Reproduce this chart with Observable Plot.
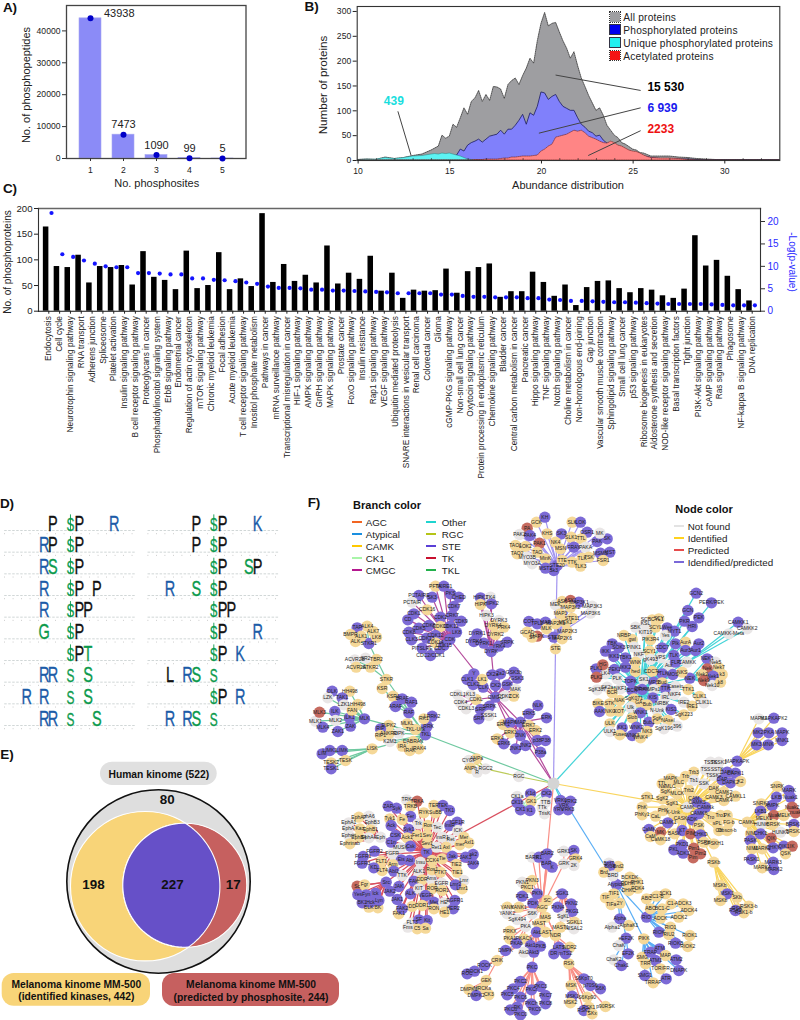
<!DOCTYPE html>
<html><head><meta charset="utf-8">
<script src="https://cdn.jsdelivr.net/npm/d3@7"></script>
<script src="https://cdn.jsdelivr.net/npm/@observablehq/plot@0.6"></script>
<style>
html,body{margin:0;padding:0;background:#fff}
#page{position:relative;width:800px;height:1020px;overflow:hidden;font-family:"Liberation Sans",Arial,sans-serif;color:#111;background:#fff}
#page svg{position:absolute;overflow:visible;background:transparent}
.lab{position:absolute;white-space:nowrap;transform:translate(-50%,-50%)}
.sw{position:absolute}
</style></head><body><div id="page"></div>
<script>
// ---------- Panel A
const sitesCount=[1,2,3,4,5];
const peptides=[43938,7473,1090,99,5];
// ---------- Panel B
const abundance=[10,10.5,11,11.5,12,12.5,13,13.5,14,14.2,14.4,14.6,14.8,15,15.2,15.4,15.6,15.8,16,16.2,16.4,16.6,16.8,17,17.2,17.4,17.6,17.8,18,18.2,18.4,18.6,18.8,19,19.2,19.4,19.6,19.8,20,20.2,20.4,20.6,20.8,21,21.2,21.4,21.6,21.8,22,22.2,22.4,22.6,22.8,23,23.2,23.4,23.6,23.8,24,24.2,24.4,24.6,24.8,25,25.2,25.4,25.6,25.8,26,26.5,27,27.5,28,28.5,29,29.5,30,30.5,31,31.5,32,32.5,33];
const allProteins=[1,2,1,6,3,5,9,12,20,24,28,50,44,48,72,66,85,105,92,118,125,140,118,132,120,148,147,143,124,152,160,165,152,170,185,205,195,240,275,297,270,275,277,258,240,225,205,218,190,165,148,130,115,100,105,90,70,60,50,45,35,32,27,22,20,15,14,11,8,8,8,6,5,3,2,1,1,1,1,1,1,1,1];
const phospho=[0,0,0,0,0,0,0,0,0,0,0,0,0,5,8,10,22,18,30,35,38,42,36,42,48,50,52,60,52,62,62,70,80,92,72,95,90,108,137,135,122,128,132,118,108,104,100,100,85,72,66,58,55,48,50,40,34,34,30,28,25,22,18,15,12,10,8,7,5,3,3,2,2,1,0,0,0,0,0,0,0,0,0];
const uniquePhospho=[1,2,2,5,3,5,8,9,12,13,12,14,13,14,12,10,8,5,2,1,1,0,0,0,0,0,0,0,0,0,0,0,0,0,0,0,0,0,0,0,0,0,0,0,0,0,0,0,0,0,0,0,0,0,0,0,0,0,0,0,0,0,0,0,0,0,0,0,0,0,0,0,0,0,0,0,0,0,0,0,0,0,0];
const acetylated=[0,0,0,0,0,0,0,0,0,0,0,0,0,0,0,0,0,0,0,0,1,1,1,2,2,2,2,3,4,4,6,6,7,8,8,8,9,10,18,22,28,32,46,48,50,52,56,60,58,60,55,48,45,42,38,35,34,38,35,30,28,24,20,18,17,14,10,7,5,4,4,3,1,0,0,0,0,0,0,0,0,0,0];
const abundanceMinorTicks=[11,12,13,14,16,17,18,19,21,22,23,24,26,27,28,29,31,32];
const bCallouts=[
 {t:"15 530",c:"#000",x1:20.77,y1:172,x2:25.41,y2:141,lx:25.78,ly:147},
 {t:"6 939",c:"#1a1aee",x1:19.86,y1:55,x2:25.41,y2:106,lx:25.78,ly:105.5},
 {t:"2233",c:"#ee1111",x1:22.55,y1:10,x2:25.41,y2:60,lx:25.78,ly:62.5},
 {t:"439",c:"#19dede",x1:12.89,y1:10,x2:12.17,y2:99,lx:11.4,ly:119}];
const bLegend=["All proteins","Phosphorylated proteins","Unique phosphorylated proteins","Acetylated proteins"];
// ---------- Panel C
const pathways=["Endocytosis","Cell cycle","Neurotrophin signaling pathway","RNA transport","Adherens junction","Spliceosome","Platelet activation","Insulin signaling pathway","B cell receptor signaling pathway","Proteoglycans in cancer","Phosphatidylinositol signaling system","ErbB signaling pathway","Endometrial cancer","Regulation of actin cytoskeleton","mTOR signaling pathway","Chronic myeloid leukemia","Focal adhesion","Acute myeloid leukemia","T cell receptor signaling pathway","Inositol phosphate metabolism","Pathways in cancer","mRNA surveillance pathway","Transcriptional misregulation in cancer","HIF-1 signaling pathway","AMPK signaling pathway","GnRH signaling pathway","MAPK signaling pathway","Prostate cancer","FoxO signaling pathway","Insulin resistance","Rap1 signaling pathway","VEGF signaling pathway","Ubiquitin mediated proteolysis","SNARE interactions in vesicular transport","Renal cell carcinoma","Colorectal cancer","Glioma","cGMP-PKG signaling pathway","Non-small cell lung cancer","Oxytocin signaling pathway","Protein processing in endoplasmic reticulum","Chemokine signaling pathway","Bladder cancer","Central carbon metabolism in cancer","Pancreatic cancer","Hippo signaling pathway","TNF signaling pathway","Notch signaling pathway","Choline metabolism in cancer","Non-homologous end-joining","Gap junction","Vascular smooth muscle contraction","Sphingolipid signaling pathway","Small cell lung cancer","p53 signaling pathway","Ribosome biogenesis in eukaryotes","Aldosterone synthesis and secretion","NOD-like receptor signaling pathway","Basal transcription factors","Tight junction","PI3K-Akt signaling pathway","cAMP signaling pathway","Ras signaling pathway","Phagosome","NF-kappa B signaling pathway","DNA replication"];
const phosphoproteins=[164,87,85,109,55,87,85,89,51,116,66,60,42,117,44,50,114,42,63,48,190,56,91,58,70,55,127,53,74,62,107,39,74,25,41,39,40,82,35,77,85,92,27,38,38,76,56,29,51,11,46,58,59,44,36,44,41,30,25,43,147,88,99,68,42,20];
const logP=[21.9,12.7,12.1,11.3,10.6,10,9.8,9.8,8.5,8.5,8.4,8.2,8.2,7.3,7.3,7,6.9,6.7,6.4,6.1,5.5,5.2,5.2,5.1,4.8,4.8,4.6,4.6,4.5,4.4,4.3,4.2,4,4,4,4,3.7,3.7,3.4,3.2,3.2,3.1,3.1,3.1,2.9,2.9,2.6,2.5,2.3,2.3,2.2,2.1,2,2,1.9,1.8,1.7,1.6,1.6,1.6,1.6,1.5,1.4,1.3,1.3,1.3];
// ---------- Panel D  (motif, positions -7..+7, column 0/1)
const motifsLeft=["-----P-SP---R--","----RP-SP------","----RS-SP------","----R--SP-P----","----R--SPP-----","----G--SP------","-------SPT-----","----RR-S-S-----","--R-R--S-S-----","----RR-S--S----"];
const motifsRight=["-----P-SP---K--","-----P-SP------","-------SP--SP--","--R--S-SP------","-------SPP-----","-------SP---R--","-------SP-K----","--L-RS-S-------","-------SP-R----","--R-RS-S-------"];
// ---------- Panel E
const vennOuter={x:158,y:881,r:91.7};
const vennIdentified={x:144.7,y:885.7,r:74.7};
const vennPredicted={x:184.3,y:884.7,r:62};
const vennCounts=[{t:"80",x:166.7,y:799.5},{t:"198",x:93,y:884},{t:"227",x:172,y:884},{t:"17",x:232.7,y:884}];
const vennPills=[
 {t:"Human kinome (522)",x1:100,x2:216.7,y1:761.7,y2:785,f:"#e0e0e0"},
 {t:"Melanoma kinome MM-500\n(identified kinases, 442)",x1:1.7,x2:150,y1:973,y2:1005.7,f:"#f8d478"},
 {t:"Melanoma kinome MM-500\n(predicted by phosphosite, 244)",x1:162,x2:339,y1:973,y2:1006,f:"#c6605f"}];
// ---------- Panel F
const branchLegend=["AGC","Atypical","CAMK","CK1","CMGC","Other","RGC","STE","TK","TKL"];
const branchSwatch=["#f26522","#1a8fe0","#ffc800","#a9f5a9","#b5178f","#1fd4cf","#b5c417","#5a3fd6","#c8102e","#22b14c"];
const branchLine={AGC:"#f98f86",Atypical:"#5aaef5",CAMK:"#f9d55e",CK1:"#a9f0b9",CMGC:"#b44a9c",Other:"#45d4d8",RGC:"#bccb5a",STE:"#a294f0",TK:"#d9505f",TKL:"#6fc9a0"};
const nodeLegend=["Not found","Identified","Predicted","Idendified/predicted"];
const nodeSwatch=["#e3e3e3","#ffd21f","#e64c4c","#7a68d8"];
const nodeFill={p:"#7c6ad6",y:"#f5d898",g:"#e9e6e6",r:"#c66b60"};
const cropOrigin={NW:[300,485],NE:[550,485],SW:[300,750],SE:[550,750]};
const netGroups=[
["NW","TKL","TKL 375 748 p;STKR 258 582 y;RAF 325 682 p;LRRK 380 722 p;MLKL 320 715 y;TKL-Unk 345 732 y;LRRK2 395 692 p;RK1 370 700 y;RIPK 295 743 g;MLK 192 700 p;LISK 215 790 y;DABRAK 338 768 y;IRAK 328 795 y;IRAK4 355 790 y;IRA 305 782 y;K2M3 268 768 g"],
["NW","TKL","STKR 258 582 y;STKR1 205 474 p;STKR2 210 545 y"],
["NW","TKL","STKR1 205 474 p;ALK4 200 422 y;TAP 170 427 p;ALK7 218 438 y;BMPR 150 447 y;ALK1 182 452 y;LK8 228 455 y;ALK 165 468 y"],
["NW","TKL","STKR2 210 545 y;ACVR2B 163 523 g;SR2 195 518 g;TBR2 228 522 y;ACVR2A 167 545 y"],
["NW","TKL","RAF 325 682 p;KSR 245 609 y;KSR1 278 632 y;BRAF 305 640 p;ARAF 285 663 p;RAF1 333 650 p"],
["NW","TKL","RIPK 295 743 g;RIPK2 265 720 y;ANKRD 265 745 y;RIP 240 730 p;RIP1 240 750 y"],
["NW","TKL","MLK 192 700 p;DLK 95 617 p;HH498 148 617 y;LZK 82 637 g;TAK1 125 637 p;LZK1 130 658 g;HH498 172 657 y;ILK 103 678 p;ILK1 147 697 p;FAN 155 675 y;ZAK 150 722 p;MLK2 105 705 g;MLK1 45 707 g;MLK3 57 680 r;ZAK1 112 738 p;MLK4 67 725 p"],
["NW","TKL","LISK 215 790 y;LIMK 125 795 p;LIMK1 88 795 p;LIM 65 805 p;TESK 135 825 y;TESK2 92 832 y;TESK1 92 850 p"],
["NW","CMGC","CMGC 585 635 p;CDK 448 462 p;DYRK 572 498 p;MAP 660 710 p;CLK 548 605 p;CK2a 575 568 p;2a2 600 565 p;CK2 585 600 p;GSK 620 598 p;GSK3 650 578 p;GSK3b 640 560 p;MAK 645 612 g;CCK 640 632 y;CDK2 612 632 g;CDKL 527 642 y;SRPK 567 662 p;SRP 540 672 p;SSSK1 565 690 g;SRK 535 700 p"],
["NW","CMGC","CDKL 527 642 y;CDKL1 472 628 g;KL3 510 628 g;CDK4 480 652 g;CDKL3 497 670 g"],
["NW","CMGC","CLK 548 605 p;Y 520 565 p;LK1 545 582 y;CLK1 500 582 p;CLK2 518 597 p"],
["NW","CMGC","CDK 448 462 p;PFTK 405 302 y;TAIRE1 430 302 p;PCTAIRE 355 330 p;SK3 395 335 p;PCTAIR 335 350 g;CHED 475 335 p;CDK7 460 363 p;PKS 450 325 p;CDK16 380 373 y;CDK1 340 385 p;CDK2 420 395 p;CRK7 455 390 p;CDK9 482 407 p;CD 322 403 p;CDK5 355 428 p;CDK6 385 420 p;CDK10 420 423 y;CDK11 450 422 p;CDK8 325 440 p;LK8 468 440 p;CDK12 405 450 p;CLK3 333 463 p;CDK13 378 458 p;PITSLRE 365 488 p;CDC 418 490 p;CDC2/CDK1 390 510 p;CDK14 405 472 y;CDK15 430 480 p"],
["NW","CMGC","DYRK 572 498 p;HIPK1 540 337 p;TK4 570 335 g;HIPK 540 357 y;HIPK2 573 355 p;HIPK3 558 390 g;DYRK3 595 405 g;DYRK4 578 420 y;PRK4 610 425 y;DYRK1 530 445 p;DYRK2 585 447 y;DYRK5 520 468 p;DYRK1 550 473 p;SRPK 620 470 p;YRK4 595 482 p"],
["NW","CMGC","MAP 660 710 p;NLK 712 660 p;ERK5 685 685 p;ERK 738 697 p;ERK1 608 717 y;MAPK 628 712 p;ERK3 630 742 y;ERK4 590 760 y;JNK 660 750 p;ERK2 705 735 y;ERK7 685 720 y;ERK6 610 775 p;JNK1 645 790 p;JNK2 675 780 p;p38 710 765 p;P38 735 765 p;P38a 720 800 p"],
["NE","STE","STE 15 490 y;STE20 20 240 p;STE7 10 455 p;MEK 15 358 g"],
["NE","STE","STE20 20 240 p;SLK 65 110 y;LOK 90 110 p;OSR1 110 140 p;SK3 33 145 p;SLK1 62 155 y;TTL 92 160 y;PAK 140 168 p;SK 170 160 p;NK4 15 170 y;PAKA 105 185 g;FRAY 70 185 p;MSN 30 190 y;MST 178 200 p;MSMS 150 203 p;TSK 115 215 y;TTE 35 225 y;TTK 65 230 y;TLK 95 218 y;TLK3 90 242 y;FSR1 158 225 y;Sk3 10 255 p;GCK -42 110 y;KH -17 95 p;PA -70 128 r;PAK2 -93 147 g;PAK4 -62 150 p;KHS -10 145 y;PAK1 -33 173 r;TAO1 -105 180 y;LOK2 -75 183 y;TAO -40 200 y;TAO2 -100 205 y;MYO3B -70 215 g;MinK -15 220 y;MYO3A -55 235 g;MST1 -15 248 p;MK 148 143 g"],
["NE","STE","STE7 10 455 p;ASK 35 348 y;ASK1 60 345 r;MAP3K1 85 350 p;MAP3K3 125 362 g;MAP3K2 60 365 y;MAP3K6 120 383 g;STE11 65 398 y;MAP3 30 385 y;MAP2K1 15 415 y;MAP2K3 50 437 y;MAP2K6 35 460 y;MEK1 45 410 y;COT -65 408 p;TPL2 -40 415 p;MAP -15 410 p;GCAD -70 440 y;MAPK -40 452 r;MLK -12 430 y;ST -55 455 y"],
["NE","Other","Other 270 610 g;GCN2 437 323 p;PERK/PEK 483 352 p;GCN 412 375 p;PEK 445 397 p;PKR 402 407 p;HRI 425 423 p;SBK 255 425 g;SCBCYL1 305 403 y;SCY 325 400 y;SCYL 315 425 y;Wee 350 427 p;MYT1 372 437 p;Yes 345 450 g;KSL 285 415 g;KIT19 285 440 g;NRBP 220 450 y;PIK3R4 300 463 y;gwl 245 462 y;PINK1 250 485 g;CDC7 335 487 p;Plk 375 475 p;AurA 405 470 y;Aur2 445 475 p;Aur1 435 495 p;Aur3 405 495 p;Aur 355 540 g;SCY1 297 497 y;TBK 185 475 p;SOK3 205 487 p;IKK 165 497 p;IKK1 190 513 p;TBK1 225 517 p;CAMKK 410 530 g;TLK 370 510 p;FLP 375 530 p;NKF 265 508 g;gK493 300 522 g;VPS 330 517 g;NEK 418 578 p;MOS 367 567 p;NKS 395 560 y;TTLK 335 565 p;CDC7L 305 558 y;LK4 165 565 g;PEK1 192 552 p;IKK2 225 545 p;WNK 255 530 y;hed 255 558 y;PLK 200 580 g;TOPK 240 587 p;SK1 280 583 g;NKF1 210 610 g;SgK307 140 613 g;SK2a 170 605 g;BCR 185 622 y;BCK 245 615 p;DRAK 275 612 p;MPS 310 590 p;Bud 335 592 y;MPs1 310 612 g;TTK 345 610 p;Casein 375 603 g;TTK1 413 612 y;NKF4 372 627 g;IRL 345 635 g;IRE2 400 650 g;IRE1 425 662 y;KIS 307 637 p;NAK 207 645 y;SgK071 250 640 y;GA 265 650 y;Bub 290 658 y;NRBK 335 655 g;Ulk 240 665 g;WNK1 270 682 p;Slob 245 697 y;N-Unk 320 675 g;KIS1 362 672 p;SgK223 400 688 y;Bub1 295 710 p;SgK 320 700 y;NAsel 352 705 y;SgK196 340 730 g;396 380 722 g;ULK 178 715 y;KK1 215 727 p;WNK2 258 725 p;NK3 290 738 y;ULK1 178 738 g;Fused 208 748 y;WNK3 245 750 p;WNK4 270 757 y"],
["NE","Other","NEK 418 578 p;NEK1 470 520 p;Nek5 495 530 g;Nek 470 550 r;Nek7 505 547 y;k3 515 567 y;Nek1 488 572 p;Nek2 455 567 y;Nek9 460 585 r;Nek10 485 600 g;k8 510 590 y"],
["NE","Other","PLK 200 580 g;PLK1 137 550 p;PLK2 138 575 r;HG 157 538 r"],
["NE","Other","NAK 207 645 y;BIKE 143 655 y;STK 177 655 y;AAK 147 678 p;NKG 180 677 y;KOT 205 677 y"],
["NE","Other","TTK1 413 612 y;CLIK1 447 633 y;CLIK1L 460 652 g"],
["NE","Other","CAMKK 410 530 g;CAMKK1 563 410 p;CAMKK2 590 430 g;CAMKK-Meta 535 445 g"],
["SE","CAMK","CAMK 410 170 g;MAPKAPK 560 32 p;TSSK 480 35 g;TSSK1 505 35 g;TSS 465 58 g;SSTK 500 58 g;DAPK 530 65 p;DAPK1 555 68 p;TSSK2 490 75 g;Trb 405 78 y;Trb3 430 65 y;MAPK 360 85 y;MLC 385 95 y;Tb1 430 90 g;SSK 460 100 g;DAP 515 88 p;DAPK2 540 97 p;K2 570 93 y;TTL 335 100 y;NaMLC 350 108 y;SgK 345 122 y;MLCK 380 130 y;Trb2 415 120 y;DAK 490 115 y;CAMK2 520 125 y;CAMKL1 555 137 y;CAMK3 490 140 y;CAM 430 145 y;SgK1 365 160 y;STK1 290 140 y;PhK 275 170 y;SgK2 335 145 y;CAMK4 520 150 y;PhKy1 275 193 y;PHK 338 180 y;K-Unk 368 187 y;CAMK5 440 155 p;CAMKk 465 170 p;CaL 315 197 y;CASK 390 205 y;CAMK6 445 190 p;ADK 425 208 p;CAMK1 352 217 p;Tro 480 200 y;Tro1 510 195 y;PK 530 195 y;PSK 445 225 y;sPL 500 220 y;FG-b 535 215 y;Obscn-b 530 240 y;Ob 505 240 y;CaMK 295 237 p;MK 330 245 r;CaM 300 258 y;BASK 372 250 y;CaMK18 330 268 y;KT 395 240 p;PIM 420 250 r;CHKO 450 253 p;PSPK 460 275 y;SPSKH1 490 280 y;PKD1 395 283 p;PKL 370 298 p;ADK1 398 308 p;Pim1 430 293 r;Pim2 450 310 r;Pim 428 322 r;RSKb 490 335 y;CAMKL 590 215 y"],
["SE","CAMK","RSKb 490 335 y;MSKb 508 405 y;MSK1 530 430 p;MSKb 510 450 y;SKb 560 440 y;RSK 560 475 y;RSK3-b 595 467 y;RSK1-b 580 487 y;RSK2 555 480 p"],
["SE","CAMK","CAMKL 590 215 y;SNRK 680 108 y;MARK 715 120 p;LKB 678 140 p;Nuak1 720 140 p;SNRK1 632 160 y;AMPK 665 165 p;Nuak2 725 170 r;LKB1 630 182 p;Nuak 670 195 r;MELK 700 195 y;nuak 735 187 r;MELK1 640 205 y;BRSK 668 222 y;BRSK1 730 222 p;HUNK 632 222 g;HUNK1 690 245 g;BRSK2 730 243 y;NIM 600 250 y;CHK1 630 250 p;PASK 600 270 p;QIK 662 263 r;NIM1 605 295 y;MARK1 635 295 y;CHKY 668 292 p;QIK1 700 287 p;IK 725 287 r;QSK 705 310 y;PASK1 603 327 p;MARK3 668 335 p;MARK4 635 352 y;MARK2 670 357 p"],
["NE","CAMK","MAPKAPK 560 827 p;MAPK1 625 700 g;MAPKAPK2 670 698 p;MK2 623 742 p;PKA 655 742 p;MAPK 695 742 p;MNK1 695 765 p;MK3 618 778 p;MNK 653 778 p"],
["SE","Atypical","Atypical 198 402 p;Brd7 175 338 g;Brd2 203 348 y;Brd4 178 347 p;Brd 160 365 y;BRD 187 376 g;BCKDK 238 380 y;PHK1 260 395 y;PDHK 232 400 y;PDK4 262 413 y;DHKC 235 420 y;TIF1 190 430 y;TIF 165 442 y;TIFa 182 462 y;2Y 208 458 y;Alpha 208 505 p;RIO 288 500 p;PIKK 280 565 y;eEF2K 227 563 p"],
["SE","Atypical","Alpha 208 505 p;Alpha1 185 530 g;AlphaK1 235 525 y"],
["SE","Atypical","RIO 288 500 p;ABC 288 445 y;2C1-B 318 437 y;3CK1 345 430 y;C1- 362 460 y;ADCK3 398 460 y;ADCK4 415 480 y;ABO 300 475 y;BC1-C 335 475 y;ADCK 330 503 y;ADCK2 385 500 y;RIO1 360 530 y;RIOK 325 545 p;RIU2 355 552 y;RIOK1 418 555 y;RIOK3 375 578 p;RIOK2 412 588 y"],
["SE","Atypical","PIKK 280 565 y;SMG 275 620 y;FRAP 300 605 p;ATM 327 595 p;MAP 345 615 y;ATM1 315 630 p;ATM2 377 628 p;TRR 285 640 y;TOR/FR 330 655 y;DNAPK 385 660 p;SMG1 283 675 p;ATR 347 685 p;TRRAP 308 697 y"],
["SE","Atypical","eEF2K 227 563 p;ChaK 205 585 g;EF2K 233 610 p;ChaK2 190 628 g;Chak1 213 645 p"],
["SE","Other","VRK 40 165 p;VRK1 30 150 p;VRK2 60 152 p;YRV 25 178 p;VRK3 52 178 p"],
["SW","RGC","RGC 655 78 g;RGC2 555 55 g"],
["SW","RGC","RGC2 555 55 g;ANPa 528 25 y;CYGF 505 30 g;ANPb 510 53 y;R 530 65 g"],
["SW","CK1","CK1 660 178 p;CK1a 650 138 g;K1d 690 130 p;CK2 738 130 p;CK1b 650 157 p;GK1 692 152 y;K1 688 180 p"],
["SW","CK1","TTB 735 155 g;TTk 725 172 g;TrisK 732 190 g"],
["SW","TK","TK 378 305 p;ZAP 263 167 p;Syk 288 173 p;TRK 318 148 g;TRKA 350 152 r;TRKB 330 168 y;TER 400 165 y;TEK 427 165 p;TK1 447 180 p;RYK 370 187 y;SuBB 405 187 y;Tyk1 268 205 y;Fer 330 198 p;Fe 305 207 y;Ack 272 225 p;Syk1 325 237 p;Trk 353 220 g;Ros 382 225 y;Tec 410 230 g;InsR 448 225 p;IGF1R 470 215 p;ICK 472 240 g;CSK 285 255 p;Ack1 320 262 y;Fer1 350 255 y;Sev 380 255 y;InsR1 425 260 g;Ret 450 268 g;Mer 490 260 y;C1n 272 275 p;Csk 330 287 p;Sev1 380 278 y;Ret1 408 290 g;Axl 437 290 y;mer 478 283 y;Axl1 505 277 y;MUSK 300 292 g;Eis 302 328 p;Abl 327 330 p;Insu 360 335 g;Arm 277 342 y;Abl1 280 362 p;TTK 305 375 g;Src 257 395 p;JAK2 268 422 p;JAK 295 408 p;JAK1 290 447 p;ALK 330 430 p;FAK 340 392 p;ALK1 355 362 g;CCK4 395 330 y;Tie 425 325 y;PTK7 420 365 y;DDR 365 388 y;Ams 392 385 g;Jak 455 317 p;JAK3 495 320 p;ak2 518 312 p;JAK4 518 340 p;TIE2 467 342 y;TIE1 470 365 y;Ros1 395 358 y;Lmr 490 390 g;Lmr1 485 415 y;Lmr2 465 403 p;EGFR 423 398 g;ROR 395 415 y;ROR1 425 420 y;KIT 355 415 g;VEGR 375 435 p;Met 400 455 p;HE 430 457 g;EGFR1 463 450 p;HER2 458 475 p;HE1 432 485 y;RON 400 475 y;DDR1 365 465 y;DD 335 468 y;FAK1 295 490 y;FAK2 305 475 p;FLT3 335 517 g;SF 355 508 p;Kit 380 510 p;C5 350 535 y;Sa 375 533 y;Fms 322 530 g"],
["SW","TK","FGFR 275 310 g;FGFR2 222 302 p;FGFR1 188 318 p;FLT1 243 332 y;FLT4 245 360 y;FGFR3 185 338 p;KD 220 352 p"],
["SW","TK","Src 257 395 p;Sc 170 407 r;Fgr 192 403 y;lck 225 428 p;Fyn 197 433 p;Yes 172 432 p;BLK 205 470 y;BK 232 472 y;BK1 185 457 p;Hck 210 455 p;Lyn 235 450 p"],
["SW","TK","Eph 240 260 g;EphA7 175 200 y;phA6 205 197 g;EphB3 215 217 g;EphA1 145 217 g;EphA 143 233 g;Kaz 178 235 y;EphB1 210 238 y;EphA4 205 262 g;Ephrin 145 255 g;EphB4 175 260 y;Ephrinab 148 280 y"],
["SW","TK","TK 378 305 p;FGFR 275 310 g;Eph 240 260 g"],
["SW","AGC","AGC 725 470 y;BARK 695 320 g;R1 715 320 p;BAR2 740 310 p;BAR 738 340 p;PKN1 665 395 g;PKN3 695 390 y;PKC1 680 410 y;PKN 710 430 p;PDK1 665 437 p;SC 740 450 y;PDK 697 458 p;YANK 620 470 y;YANK1 655 470 y;YANK2 620 490 g;S6K 695 490 g;MAS 735 500 y;SgK494 650 507 g;PKA 675 528 g;MAST 715 520 y;Akt 708 545 p;LAST 735 545 y;PKC 695 650 p;GRK 790 340 g;RSK 805 640 y;SGK1 785 430 p;NDR 765 555 y"],
["SW","AGC","GRK 790 340 g;GRK1 790 302 g;SK 820 300 p;GRK4 825 325 y;2K 820 345 g;K 755 350 p"],
["SW","AGC","SGK1 785 430 p;PKN4 772 470 p;PKN2 812 460 p;PKG1 815 483 p;SGKL1 822 515 y;SgKL 788 497 g;NISAL2 820 535 g;MAST1 780 530 y"],
["SW","AGC","NDR 765 555 y;LATS 775 590 p;NDR2 808 590 y;mTS2 795 610 p;DR 760 610 p"],
["SW","AGC","PKA 675 528 g;PRKX 628 542 y;PKACa 670 565 y;PKA1 628 565 y;PKAb 648 578 p"],
["SW","AGC","Akt 708 545 p;Akt1 690 585 p;PKB 720 587 p;Akt2 670 605 g;Akt3 700 605 p;DMPK 615 600 p;CRIK 590 630 y"],
["SW","AGC","CRIK 590 630 y;ROCK 552 645 p;ROCK1 522 662 p;ROC 500 670 p;GEK 557 690 y"],
["SW","AGC","GEK 557 690 y;DMPK1 505 717 y;MRCKa 545 715 y;CK3 565 733 y;DMPK2 527 735 p"],
["SW","AGC","PKC 695 650 p;PKC2 660 693 p;PKC3 720 708 p;PKC4 638 715 p;PKCr 693 718 p;PKC5 620 733 p;PKC6 660 740 p;PKC7 735 735 p;PKCh 692 760 p;PKC8 735 760 p;PKCd 630 778 p;PK 650 770 p;PKC9 703 778 p;PKC0 660 793 p"],
["SW","AGC","RSK 805 640 y;S6Kp70 850 685 p;p70S6 870 705 p;S6K 900 715 p;MSK 812 705 y;MSK1 815 737 p;S6Kp90 860 740 y;MSK2 810 757 y;p90RSK 915 768 y;RSK1 865 770 y;RSK2 850 780 p;SKx 875 790 y"]
];
// Trunk links between the tree's centre and its branch hubs (page units)
const trunkLinks=[
 ["TKL",553,783,425,734.3],["CMGC",553,783,495,696.7],["CMGC",553,783,520,721.7],["STE",553,783,555,648.3],
 ["Other",553,783,640,688.3],["CAMK",553,783,686.7,806.7],["Atypical",553,783,616,884],["TK",553,783,426,851.7],
 ["CK1",553,783,520,809],["CK1",553,783,545,802],["AGC",553,783,541.7,906.7],["RGC",553,783,518.3,776],
 ["Other",553,783,563,805],["AGC",541.7,906.7,548,858],["CMGC",495,696.7,510,730]
];

// ---------- Helpers
const page=document.getElementById("page");
const FONT='"Liberation Sans",Arial,sans-serif';
function place(p,left,top){p.style.left=left+"px";p.style.top=top+"px";page.appendChild(p);return p;}
function lab(t,x,y,o={}){const d=document.createElement("div");d.className="lab";d.textContent=t;d.style.left=x+"px";d.style.top=y+"px";
 d.style.fontSize=(o.size||11)+"px";if(o.bold)d.style.fontWeight="bold";if(o.color)d.style.color=o.color;if(o.spacing)d.style.letterSpacing=o.spacing+"px";
 if(o.rot)d.style.transform=`translate(-50%,-50%) rotate(${o.rot}deg)`;
 if(o.left){d.style.transform="translate(0,-50%)";}
 page.appendChild(d);return d;}
function swatch(x1,x2,y1,y2,c,border){const d=document.createElement("div");d.className="sw";d.style.left=x1+"px";d.style.top=y1+"px";d.style.width=(x2-x1)+"px";d.style.height=(y2-y1)+"px";d.style.background=c;if(border)d.style.outline=border;page.appendChild(d);}

// ---------- A
place(Plot.plot({width:290,height:195,marginLeft:66,marginRight:44.5,marginTop:5,marginBottom:37,
 style:{fontFamily:FONT,fontSize:"8.6px",color:"#222"},
 x:{type:"band",domain:sitesCount,padding:.34,label:null},
 y:{domain:[0,47960],label:null},
 marks:[
  Plot.barY(sitesCount,{x:d=>d,y:(d,i)=>peptides[i],fill:"#8b8bf7",stroke:"#a8a8f0",strokeWidth:.6}),
  Plot.frame({stroke:"#444",strokeWidth:1.3}),
  Plot.axisX({tickSize:3,tickPadding:5,fontSize:8.6,stroke:"#333"}),
  Plot.axisY({ticks:[0,10000,20000,30000,40000],tickFormat:d=>String(d),tickSize:4,tickPadding:2,fontSize:8.6,label:null,stroke:"#333"}),
  Plot.dot(sitesCount,{x:d=>d,y:(d,i)=>peptides[i],r:3,fill:"#0000c8"}),
  Plot.text(sitesCount,{filter:d=>d==1,x:d=>d,y:(d,i)=>peptides[0],text:d=>String(peptides[d-1]),textAnchor:"start",dx:13.5,dy:-5,fontSize:11,fill:"#222"}),
  Plot.text(sitesCount,{filter:d=>d>1,x:d=>d,y:d=>peptides[d-1],text:d=>String(peptides[d-1]),dy:-10,fontSize:11,fill:"#222"})
 ]}),0,0);
lab("No. phosphosites",156.7,182.7,{size:11,color:"#222"});
lab("No. of phosphopeptides",26,85,{size:11,rot:-90,color:"#222"});

// ---------- B
const bRows=abundance.map((x,i)=>({x,all:allProteins[i],ph:phospho[i],un:uniquePhospho[i],ac:acetylated[i]}));
place(Plot.plot({width:510,height:195,marginLeft:66.7,marginRight:20.7,marginTop:6,marginBottom:35,
 style:{fontFamily:FONT,fontSize:"8.6px",color:"#222"},
 x:{domain:[9.95,33],label:null},y:{domain:[0,310],label:null},
 marks:[
  Plot.areaY(bRows,{x:"x",y:"all",fill:"#9e9ea1",stroke:"#222",strokeWidth:.7,strokeDasharray:"1.2,1"}),
  Plot.areaY(bRows,{x:"x",y:"ph",fill:"#8080fb",stroke:"#1c1c60",strokeWidth:.8}),
  Plot.areaY(bRows,{x:"x",y:"un",fill:"#5cf3f3",stroke:"#2a7a7a",strokeWidth:.5}),
  Plot.areaY(bRows,{x:"x",y:"ac",fill:"#ff8585",stroke:"#702020",strokeWidth:.6,strokeDasharray:"1.2,1"}),
  Plot.link(bCallouts,{x1:"x1",y1:"y1",x2:"x2",y2:"y2",stroke:"#444",strokeWidth:1}),
  Plot.text(bCallouts,{x:"lx",y:"ly",text:"t",fill:"c",fontSize:12,fontWeight:"bold",textAnchor:"start"}),
  Plot.frame({stroke:"#333",strokeWidth:1.1}),
  Plot.axisX({ticks:[10,15,20,25,30],tickSize:3.5,tickPadding:4,fontSize:8.6,label:null}),
  Plot.ruleX(abundanceMinorTicks,{y1:0,y2:4,stroke:"#222",strokeWidth:.6}),
  Plot.axisY({ticks:[0,50,100,150,200,250,300],tickSize:4,tickPadding:2,fontSize:8.6,label:null})
 ],color:{type:"identity"}}),290,0);
lab("Abundance distribution",568,185,{size:11,color:"#222"});
lab("Number of proteins",322,85,{size:11.6,rot:-90,color:"#222"});
[["#9e9ea1","1px dotted #333"],["#0000ee"],["#22f0f0"],["#f41414","1px dotted #333"]].forEach((s,i)=>{
 const y=12+i*12.9;swatch(609.5,619.5,y,y+9.6,s[0],s[1]||"1px solid #334");
 lab(bLegend[i],623.3,y+5,{size:10.2,left:true,spacing:.2,color:"#222"});});

// ---------- C
const cDims={width:800,height:300,marginLeft:38,marginRight:40,marginTop:18,marginBottom:179.3};
const cRows=pathways.map((p,i)=>({p,v:phosphoproteins[i],l:logP[i]}));
const cX={type:"band",domain:pathways,range:[42.9,757.1],paddingInner:.49,paddingOuter:.245,label:null};
place(Plot.plot({...cDims,style:{fontFamily:FONT,fontSize:"8.3px",color:"#222"},x:cX,y:{domain:[0,200],label:null},
 marks:[
  Plot.barY(cRows,{x:"p",y:"v",dx:-2.7,fill:"#000"}),
  Plot.frame({anchor:"top",stroke:"#666",strokeWidth:1.3}),
  Plot.frame({anchor:"left",stroke:"#333",strokeWidth:1.1}),
  Plot.frame({anchor:"right",stroke:"#333",strokeWidth:1.1}),
  Plot.frame({anchor:"bottom",stroke:"#111",strokeWidth:1.1}),
  Plot.axisX({tickRotate:-90,tickSize:3,tickPadding:2,fontSize:8.3,label:null,lineWidth:100}),
  Plot.axisY({ticks:[0,50,100,150,200],tickSize:4,tickPadding:2,fontSize:9.6,label:null})
 ]}),0,190);
place(Plot.plot({...cDims,style:{fontFamily:FONT,fontSize:"10px",color:"#2a2aff"},x:{...cX,axis:null},y:{domain:[0,22.9],axis:null},
 marks:[
  Plot.dot(cRows,{x:"p",y:"l",dx:2.7,r:2.1,fill:"#1414ff"}),
  Plot.axisY({anchor:"right",ticks:[0,5,10,15,20],tickSize:4,tickPadding:3,fontSize:10,label:null,fill:"#2a2aff",stroke:"#333"})
 ]}),0,190);
lab("No. of phosphoproteins",7,262,{size:10,rot:-90,color:"#222"});
lab("-Log(p-value)",792,262,{size:10,rot:90,color:"#2a2aff"});

// ---------- D
const residueColor={P:"#111",L:"#111",R:"#1c5ca8",K:"#1c5ca8",S:"#0b9a4c",G:"#0b9a4c",T:"#0b9a4c"};
const COLSHIFT=16.35;
const logoRows=[...motifsLeft.map((m,r)=>({m,r,c:0})),...motifsRight.map((m,r)=>({m,r,c:1}))];
const logoLetters=logoRows.flatMap(({m,r,c})=>[...m].map((ch,i)=>({ch,r,c,pos:i-7,x:i-7+c*COLSHIFT})).filter(d=>d.ch!=="-"));
const anchored=logoRows.filter(d=>d.m[8]==="P").map(d=>({r:d.r,x:d.c*COLSHIFT}));
const dPlot=place(Plot.plot({width:300,height:250,margin:0,axis:null,
 style:{fontFamily:FONT},
 x:{domain:[-7,23.35],range:[8.6,274.7],axis:null},y:{domain:[0,9],range:[45,240],axis:null},color:{type:"identity"},
 marks:[
  Plot.ruleY(logoRows,{y:"r",x1:d=>-7.5+d.c*COLSHIFT,x2:d=>7.5+d.c*COLSHIFT,stroke:"#8a9a9a",strokeWidth:.6,strokeDasharray:"2.5,1.5",opacity:.65}),
  Plot.ruleY(logoRows,{y:"r",dy:3.2,x1:d=>-7.5+d.c*COLSHIFT,x2:d=>7.5+d.c*COLSHIFT,stroke:"#8a8a8a",strokeWidth:1,strokeDasharray:"0.7,7.8",opacity:.6}),
  Plot.ruleX(anchored,{x:"x",y1:d=>d.r,y2:d=>d.r-.72,stroke:"#0b9a4c",strokeWidth:.9}),
  Plot.text(logoLetters,{filter:d=>d.pos===0,x:"x",y:"r",text:"ch",fill:d=>residueColor[d.ch],stroke:d=>residueColor[d.ch],strokeWidth:.35,fontSize:18,lineAnchor:"bottom",className:"logo"}),
  Plot.text(logoLetters,{filter:d=>d.pos!==0,x:"x",y:"r",text:"ch",fill:d=>residueColor[d.ch],stroke:d=>residueColor[d.ch],strokeWidth:.35,fontSize:22,lineAnchor:"bottom",className:"logo"})
 ]}),0,485);
dPlot.querySelectorAll("g.logo text, .logo text").forEach(t=>{
 const tr=t.getAttribute("transform");
 if(tr)t.setAttribute("transform",tr+" scale(.66,1)");
 else{const x=t.getAttribute("x"),y=t.getAttribute("y");t.removeAttribute("x");t.removeAttribute("y");t.setAttribute("transform",`translate(${x},${y}) scale(.66,1)`);}
});

// ---------- E
function lensPoints(a,b){const d=Math.hypot(b.x-a.x,b.y-a.y),base=Math.atan2(b.y-a.y,b.x-a.x);
 const a0=Math.acos((d*d+a.r*a.r-b.r*b.r)/(2*d*a.r)),b0=Math.acos((d*d+b.r*b.r-a.r*a.r)/(2*d*b.r));const out=[];
 for(let i=0;i<=60;i++){const t=base-a0+2*a0*i/60;out.push([a.x+a.r*Math.cos(t),a.y+a.r*Math.sin(t)]);}
 for(let i=0;i<=60;i++){const t=base+Math.PI-b0+2*b0*i/60;out.push([b.x+b.r*Math.cos(t),b.y+b.r*Math.sin(t)]);}
 return out;}
const circleMark=(c,fill,stroke,sw,dr=0)=>Plot.dot([c],{x:"x",y:"y",r:c.r-dr,fill,stroke,strokeWidth:sw});
place(Plot.plot({width:350,height:285,margin:0,axis:null,style:{fontFamily:FONT},
 x:{domain:[0,350],range:[0,350],axis:null},y:{domain:[735,1020],range:[0,285],axis:null},
 marks:[
  circleMark(vennOuter,"#dedede","#111",1.6),
  circleMark(vennIdentified,"#f8d478","#fff",1.1),
  circleMark(vennPredicted,"#c6605f","#fff",1.1),
  Plot.line(lensPoints(vennIdentified,vennPredicted),{x:d=>d[0],y:d=>d[1],fill:"#6650c8",stroke:"#fff",strokeWidth:1.1,curve:"linear-closed"}),
  Plot.text(vennCounts,{x:"x",y:"y",text:"t",fontSize:13.4,fontWeight:"bold",fill:"#111"}),
  Plot.rect(vennPills,{x1:"x1",x2:"x2",y1:"y1",y2:"y2",fill:"f",rx:12}),
  Plot.text(vennPills,{x:d=>(d.x1+d.x2)/2,y:d=>(d.y1+d.y2)/2,text:"t",fontSize:10.3,fontWeight:"bold",fill:"#111",lineHeight:1.25})
 ]}),0,735);

// ---------- F
const nodeSeen=new Map(),edges=[];
for(const [crop,branch,spec] of netGroups){
 const [ox,oy]=cropOrigin[crop];
 const items=spec.split(";").map(s=>{const [t,x,y,st]=s.split(" ");return {t,x:ox+ +x/3,y:oy+ +y/3,st};});
 items.forEach(n=>{const k=n.x.toFixed(1)+"/"+n.y.toFixed(1);if(!nodeSeen.has(k))nodeSeen.set(k,n);});
 const hub=items[0];
 items.slice(1).forEach(n=>edges.push({b:branch,x1:hub.x,y1:hub.y,x2:n.x,y2:n.y}));
}
trunkLinks.forEach(([b,x1,y1,x2,y2])=>edges.push({b,x1,y1,x2,y2}));
const nodes=[...nodeSeen.values()];
place(Plot.plot({width:500,height:535,margin:0,axis:null,style:{fontFamily:FONT},
 x:{domain:[300,800],range:[0,500],axis:null},y:{domain:[485,1020],range:[0,535],axis:null},color:{type:"identity"},
 marks:[
  Plot.link(edges,{x1:"x1",y1:"y1",x2:"x2",y2:"y2",stroke:d=>branchLine[d.b],strokeWidth:1.2}),
  Plot.dot(nodes,{x:"x",y:"y",r:5.7,fill:d=>nodeFill[d.st]}),
  Plot.dot([{x:553,y:783}],{x:"x",y:"y",r:6,fill:"#d4d4d4"}),
  Plot.text(nodes,{x:"x",y:"y",text:"t",fontSize:5,fill:"#222"})
 ]}),300,485);
lab("Branch color",387,505,{size:11,bold:true});
branchLegend.forEach((t,i)=>{const col=i<5?0:1,r=i%5,y=521.7+r*12;const x=col?425.7:351.7;
 swatch(x,x+10.5,y-1.1,y+1.1,branchSwatch[i]);lab(t,x+(col?16:14),y,{size:9.8,left:true,color:"#222"});});
lab("Node color",704,509,{size:11,bold:true});
nodeLegend.forEach((t,i)=>{const y=526+i*12;swatch(673.7,683.7,y-1.1,y+1.1,nodeSwatch[i]);lab(t,687.7,y,{size:9.8,left:true,color:"#222"});});

// ---------- Panel letters
[["A)",10,7],["B)",311.7,6],["C)",10,187.5],["D)",7,503],["E)",7,754],["F)",314,502]].forEach(([t,x,y])=>lab(t,x,y,{size:13.5,bold:true}));
</script></body></html>
